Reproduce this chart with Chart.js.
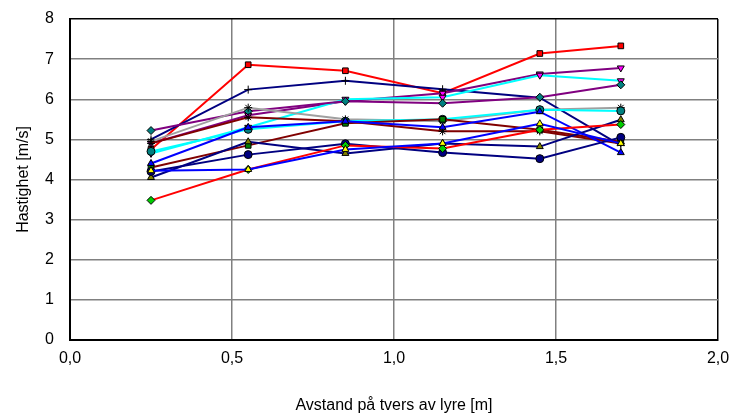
<!DOCTYPE html>
<html lang="no">
<head>
    <meta charset="UTF-8">
    <title>Hastighet over lyre</title>
    <script src="https://cdn.jsdelivr.net/npm/chart.js"></script>
    <style>
        body {
            margin: 0;
            background: #ffffff;
        }
        #wrap {
            width: 734px;
            height: 415px;
        }
    </style>
</head>
<body>
    <div id="wrap"><canvas id="speedChart" width="734" height="415"></canvas></div>

    <script>
        // measurement positions across the lyre [m]
        const positions = [0.25, 0.55, 0.85, 1.15, 1.45, 1.7];

        // speeds [m/s], one array per measurement series
        const seriesA = [4.75, 6.86, 6.71, 6.15, 7.14, 7.33];
        const seriesB = [5.00, 6.24, 6.46, 6.25, 6.04, 4.85];
        const seriesC = [4.90, 5.60, 5.95, 6.15, 6.63, 6.78];
        const seriesD = [4.65, 5.30, 6.00, 6.05, 6.60, 6.46];
        const seriesE = [5.22, 5.70, 5.95, 5.90, 6.05, 6.36];
        const seriesF = [4.95, 5.79, 5.50, 5.45, 5.74, 5.79];
        const seriesG = [4.70, 5.25, 5.45, 5.50, 5.74, 5.71];
        const seriesH = [4.90, 5.55, 5.45, 5.20, 5.20, 4.90];
        const seriesI = [4.30, 4.85, 5.40, 5.50, 5.24, 4.94];
        const seriesJ = [4.40, 5.30, 5.45, 5.30, 5.69, 4.67];
        const seriesK = [4.05, 4.94, 4.65, 4.90, 4.82, 5.49];
        const seriesL = [4.20, 4.62, 4.89, 4.67, 4.52, 5.05];
        const seriesM = [3.48, 4.25, 4.85, 4.77, 5.24, 5.37];
        const seriesN = [4.22, 4.25, 4.75, 4.90, 5.39, 4.90];

        const xTicks = [0, 0.5, 1.0, 1.5, 2.0];
        const yTicks = [0, 1, 2, 3, 4, 5, 6, 7, 8];

        function pts(values) {
            return values.map((v, i) => ({ x: positions[i], y: v }));
        }

        // line colour, marker fill, marker shape
        function series(values, line, fill, shape, rot) {
            return {
                data: pts(values),
                showLine: true,
                borderColor: line,
                borderWidth: 2,
                backgroundColor: fill,
                pointBackgroundColor: fill,
                pointBorderColor: '#000000',
                pointBorderWidth: 1,
                pointStyle: shape,
                pointRotation: rot || 0,
                pointRadius: 4
            };
        }

        function comma(v) {
            return v.toFixed(1).replace('.', ',');
        }

        const ctx = document.getElementById('speedChart').getContext('2d');
        new Chart(ctx, {
            type: 'scatter',
            data: {
                datasets: [
                    series(seriesN, '#0000ff', '#ffff00', 'triangle'),
                    series(seriesM, '#ff0000', '#00cc00', 'rectRot'),
                    series(seriesL, '#000080', '#000080', 'circle'),
                    series(seriesK, '#000080', '#808000', 'triangle'),
                    series(seriesJ, '#0000ff', '#0000ff', 'triangle'),
                    series(seriesI, '#800000', '#008000', 'rect'),
                    series(seriesH, '#800000', '#800000', 'star'),
                    series(seriesG, '#00ffff', '#008080', 'circle'),
                    series(seriesF, '#a0a0a0', '#808080', 'star'),
                    series(seriesE, '#800080', '#008080', 'rectRot'),
                    series(seriesD, '#00ffff', '#ff00ff', 'triangle', 180),
                    series(seriesC, '#800080', '#ff00ff', 'triangle', 180),
                    series(seriesB, '#000080', '#000080', 'cross'),
                    series(seriesA, '#ff0000', '#ff0000', 'rect')
                ]
            },
            options: {
                responsive: false,
                animation: false,
                layout: {
                    padding: 0
                },
                plugins: {
                    legend: { display: false },
                    tooltip: { enabled: false }
                },
                scales: {
                    x: {
                        type: 'linear',
                        min: 0,
                        max: 2,
                        afterBuildTicks: axis => {
                            axis.ticks = xTicks.map(v => ({ value: v }));
                        },
                        afterFit: s => {
                            s.height = 75;
                            s.paddingLeft = 0;
                            s.paddingRight = 16;
                        },
                        grid: {
                            color: c => (c.tick && c.tick.value === 2) ? '#000000' : '#808080',
                            lineWidth: 1.5,
                            drawTicks: false
                        },
                        border: { color: '#000000', width: 2 },
                        ticks: {
                            color: '#000000',
                            padding: 9,
                            font: { family: 'Liberation Sans', size: 16 },
                            callback: v => comma(v)
                        },
                        title: {
                            display: true,
                            text: 'Avstand på tvers av lyre [m]',
                            color: '#000000',
                            font: { family: 'Liberation Sans', size: 16 },
                            padding: { top: 0, bottom: 0 }
                        }
                    },
                    y: {
                        min: 0,
                        max: 8,
                        afterBuildTicks: axis => {
                            axis.ticks = yTicks.map(v => ({ value: v }));
                        },
                        afterFit: s => {
                            s.width = 70;
                            s.paddingTop = 19;
                            s.paddingBottom = 0;
                        },
                        grid: {
                            color: c => (c.tick && c.tick.value === 8) ? '#000000' : '#808080',
                            lineWidth: 1.5,
                            drawTicks: false
                        },
                        border: { color: '#000000', width: 2 },
                        ticks: {
                            color: '#000000',
                            padding: 16,
                            font: { family: 'Liberation Sans', size: 16 }
                        },
                        title: {
                            display: true,
                            text: 'Hastighet [m/s]',
                            color: '#000000',
                            font: { family: 'Liberation Sans', size: 16 },
                            padding: { top: 14, bottom: 0 }
                        }
                    }
                }
            }
        });
    </script>
</body>
</html>
